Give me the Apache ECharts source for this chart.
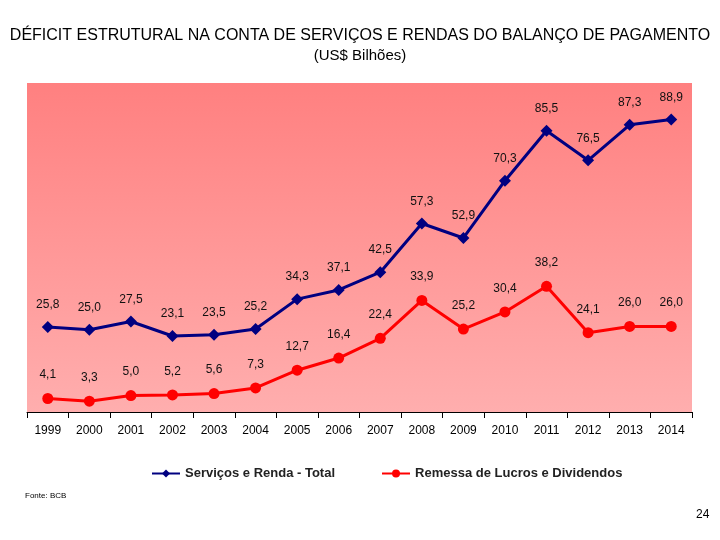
<!DOCTYPE html>
<html>
<head>
<meta charset="utf-8">
<script src="https://cdn.jsdelivr.net/npm/echarts@6/dist/echarts.min.js"></script>
<style>html,body{margin:0;padding:0;background:#fff}#c{width:720px;height:540px}</style>
</head>
<body>
<div id="c"></div>
<script>
var years = ['1999','2000','2001','2002','2003','2004','2005','2006','2007','2008','2009','2010','2011','2012','2013','2014'];
var servicosRenda = [25.8,25.0,27.5,23.1,23.5,25.2,34.3,37.1,42.5,57.3,52.9,70.3,85.5,76.5,87.3,88.9];
var remessaLucros = [4.1,3.3,5.0,5.2,5.6,7.3,12.7,16.4,22.4,33.9,25.2,30.4,38.2,24.1,26.0,26.0];
var seriesNames = ['Serviços e Renda - Total','Remessa de Lucros e Dividendos'];

var chart = echarts.init(document.getElementById('c'));
var fmt = function(p){ return p.value.toFixed(1).replace('.', ','); };
chart.setOption({
  animation: false,
  backgroundColor: '#ffffff',
  textStyle: { fontFamily: 'Liberation Sans, Arial, sans-serif' },
  title: [
    { text: 'DÉFICIT ESTRUTURAL NA CONTA DE SERVIÇOS E RENDAS DO BALANÇO DE PAGAMENTO', left: 'center', top: 23,
      textStyle: { fontSize: 16, fontWeight: 'normal', color: '#000' } },
    { text: '(US$ Bilhões)', left: 'center', top: 43, textStyle: { fontSize: 15, fontWeight: 'normal', color: '#000' } },
    { text: 'Fonte: BCB', left: 20, top: 487, textStyle: { fontSize: 8, fontWeight: 'normal', color: '#000' } },
    { text: '24', left: 691, top: 504, textStyle: { fontSize: 12, fontWeight: 'normal', color: '#000' } }
  ],
  legend: {
    left: 146, top: 462, itemGap: 46, itemWidth: 28, itemHeight: 10,
    textStyle: { fontSize: 13, fontFamily: 'Liberation Sans Narrow, Arial Narrow, sans-serif', fontWeight: 'bold', color: '#222' },
    data: seriesNames
  },
  grid: {
    left: 27, right: 28, top: 83, bottom: 128, show: true, borderWidth: 0,
    backgroundColor: new echarts.graphic.LinearGradient(0,0,0,1,[{offset:0,color:'#FF8080'},{offset:1,color:'#FFAEAE'}])
  },
  xAxis: {
    type: 'category', data: years, boundaryGap: true,
    axisLine: { lineStyle: { color: '#000', width: 1 } },
    axisTick: { show: true, length: 6, alignWithLabel: false, lineStyle: { color: '#000' } },
    axisLabel: { color: '#000', fontSize: 12, margin: 13 }
  },
  yAxis: { type: 'value', min: 0, max: 100, show: false, splitLine: { show: false } },
  series: [
    { name: seriesNames[0], type: 'line', data: servicosRenda, symbol: 'diamond', symbolSize: 12,
      lineStyle: { color: '#000080', width: 3 }, itemStyle: { color: '#000080' },
      label: { show: true, position: 'top', distance: 10, formatter: fmt, fontSize: 12, color: '#111' } },
    { name: seriesNames[1], type: 'line', data: remessaLucros, symbol: 'circle', symbolSize: 11,
      lineStyle: { color: '#FF0000', width: 3 }, itemStyle: { color: '#FF0000' },
      label: { show: true, position: 'top', distance: 12, formatter: fmt, fontSize: 12, color: '#111' } }
  ]
});
</script>
</body>
</html>
